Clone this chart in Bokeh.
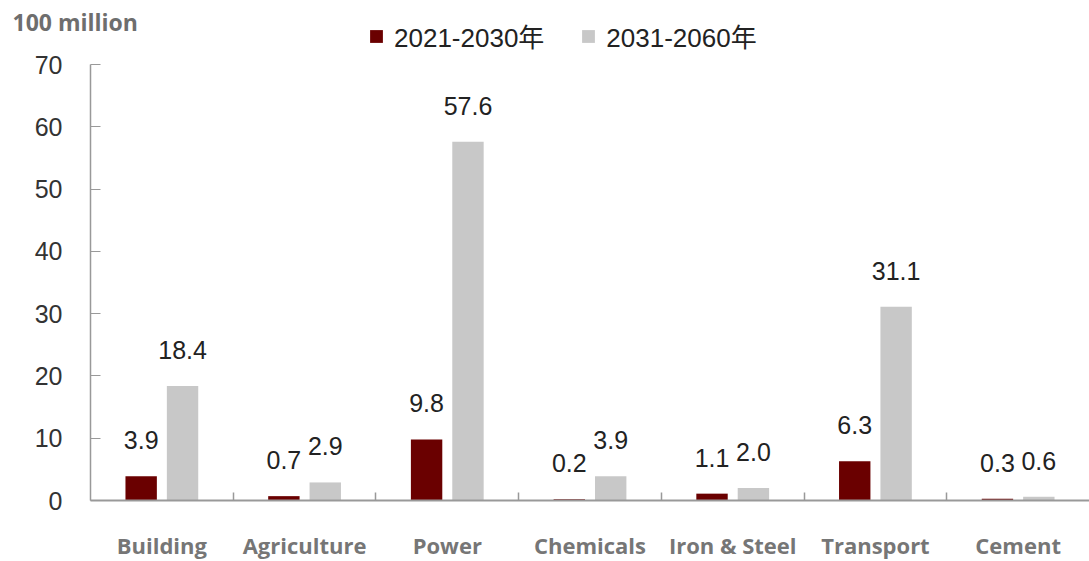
import numpy as np
from bokeh.plotting import figure
from bokeh.models import (ColumnDataSource, Range1d, FixedTicker, Legend, LegendItem, Label)
from bokeh.core.properties import value
from bokeh.transform import dodge
from bokeh.embed import file_html
from bokeh.resources import INLINE

categories = ["Building", "Agriculture", "Power", "Chemicals", "Iron & Steel", "Transport", "Cement"]
series_names = ["2021-2030年", "2031-2060年"]
v_2021_2030 = [3.9, 0.7, 9.8, 0.2, 1.1, 6.3, 0.3]
v_2031_2060 = [18.4, 2.9, 57.6, 3.9, 2.0, 31.1, 0.6]
y_ticks = [0, 10, 20, 30, 40, 50, 60, 70]
unit_label = "100 million"

RED = "#6a0000"
GRAY = "#c8c8c8"
NUM_FONT = "Liberation Sans, Noto Sans CJK SC"

# layout (pixels): the frame covers the whole canvas; the value axis is drawn
# at x=90 px and the category axis at y=500 px; 0..70 spans 436 px.
W_PX, H_PX = 1089, 561
BASE_Y = 500
AXIS_H = 436
AXIS_X = 90
Y_MAX = 70
n = len(categories)
per_px = Y_MAX / AXIS_H
y_end = BASE_Y * per_px
y_start = -(H_PX - BASE_Y) * per_px
x_start = -n * AXIS_X / (W_PX - AXIS_X)

centers = np.arange(n) + 0.5
src = ColumnDataSource(dict(
    x=centers,
    a=v_2021_2030,
    b=v_2031_2060,
    la=[f"{v:.1f}" for v in v_2021_2030],
    lb=[f"{v:.1f}" for v in v_2031_2060],
))

p = figure(width=W_PX, height=H_PX, output_backend="svg", toolbar_location=None,
           x_range=Range1d(x_start, n), y_range=Range1d(y_start, y_end),
           min_border_left=0, min_border_right=0, min_border_top=0, min_border_bottom=0)
p.outline_line_color = None
p.grid.visible = False
p.background_fill_color = "white"
p.border_fill_color = "white"

W = 0.22
D = 0.145
ra = p.vbar(x=dodge("x", -D), top="a", width=W, bottom=0, source=src,
            fill_color=RED, line_color=None)
rb = p.vbar(x=dodge("x", D), top="b", width=W, bottom=0, source=src,
            fill_color=GRAY, line_color=None)

for col, lab, off in (("a", "la", -D), ("b", "lb", D)):
    p.text(x=dodge("x", off), y=col, text=lab, source=src, y_offset=-36,
           text_align="center", text_baseline="middle",
           text_font=value(NUM_FONT), text_font_size="25px", text_color="#222222")

# category axis
xa = p.xaxis[0]
xa.fixed_location = 0
xa.bounds = (0, n)
xa.ticker = FixedTicker(ticks=list(centers), minor_ticks=list(range(1, n)))
xa.major_label_overrides = {float(c): name for c, name in zip(centers, categories)}
xa.major_tick_in = 0
xa.major_tick_out = 0
xa.minor_tick_in = 8
xa.minor_tick_out = 0
xa.minor_tick_line_color = "#999999"
xa.minor_tick_line_width = 1.5
xa.axis_line_color = "#999999"
xa.axis_line_width = 2
xa.major_label_standoff = 29
xa.major_label_text_font = "Open Sans"
xa.major_label_text_font_style = "bold"
xa.major_label_text_font_size = "22px"
xa.major_label_text_color = "#767676"

# value axis
ya = p.yaxis[0]
ya.fixed_location = 0
ya.bounds = (0, Y_MAX)
ya.ticker = FixedTicker(ticks=y_ticks)
ya.major_tick_in = 10
ya.major_tick_out = 0
ya.minor_tick_in = 0
ya.minor_tick_out = 0
ya.major_tick_line_color = "#999999"
ya.axis_line_color = "#999999"
ya.axis_line_width = 1.5
ya.major_label_standoff = 28
ya.major_label_text_font = "Liberation Sans"
ya.major_label_text_font_size = "25px"
ya.major_label_text_color = "#333333"

# unit label
p.add_layout(Label(x=12, y=H_PX - 21, x_units="screen", y_units="screen", text=unit_label,
                   text_font="Open Sans", text_font_style="bold", text_font_size="23px",
                   text_color="#6e6e6e", text_baseline="middle", text_align="left"))

legend = Legend(items=[LegendItem(label=series_names[0], renderers=[ra]),
                       LegendItem(label=series_names[1], renderers=[rb])],
                orientation="horizontal", location=(368, H_PX - 54),
                glyph_width=16, glyph_height=16, label_standoff=10, spacing=36,
                padding=0, margin=0, border_line_alpha=0, background_fill_alpha=0,
                label_text_font=NUM_FONT, label_text_font_size="26px",
                label_text_color="#222222", label_text_baseline="middle")
p.add_layout(legend, "center")

open("out.html", "w").write(file_html(p, INLINE))
